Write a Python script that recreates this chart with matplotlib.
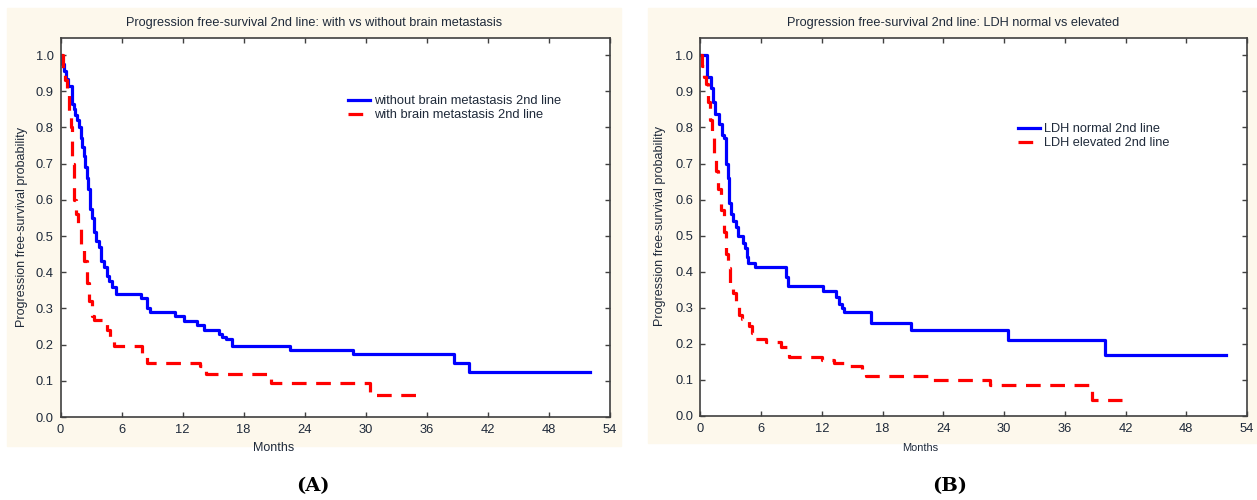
import matplotlib
matplotlib.use("Agg")
import matplotlib.pyplot as plt
from matplotlib.patches import Rectangle

plt.rcParams['font.family'] = ['Liberation Sans', 'DejaVu Sans']

# Panel A: with vs without brain metastasis (Kaplan-Meier steps)
a_no_t = [0, 0.15, 0.35, 0.55, 0.75, 1.15, 1.3, 1.45, 1.6, 1.8, 2.0, 2.15, 2.3, 2.45,
          2.6, 2.75, 2.9, 3.1, 3.3, 3.5, 3.8, 4.0, 4.3, 4.6, 4.8, 5.1, 5.5, 7.9, 8.5,
          8.8, 11.3, 12.1, 13.4, 14.1, 15.6, 15.9, 16.3, 16.9, 22.6, 28.7, 38.7, 40.1, 52.0]
a_no_s = [1.0, 0.975, 0.955, 0.935, 0.915, 0.865, 0.85, 0.835, 0.82, 0.80, 0.77, 0.745,
          0.72, 0.69, 0.66, 0.63, 0.575, 0.55, 0.51, 0.485, 0.47, 0.43, 0.415, 0.39,
          0.375, 0.36, 0.34, 0.33, 0.30, 0.29, 0.28, 0.265, 0.255, 0.24, 0.23, 0.222,
          0.215, 0.195, 0.186, 0.174, 0.149, 0.124, 0.124]
a_bm_t = [0, 0.2, 0.45, 0.65, 0.8, 1.0, 1.17, 1.36, 1.5, 1.75, 2.0, 2.3, 2.6, 2.8, 3.1,
          3.25, 4.55, 4.9, 5.3, 8.0, 8.5, 13.7, 14.3, 20.7, 30.4, 35.3]
a_bm_s = [1.0, 0.96, 0.93, 0.9, 0.83, 0.8, 0.7, 0.6, 0.56, 0.53, 0.47, 0.43, 0.37, 0.32,
          0.28, 0.269, 0.24, 0.21, 0.195, 0.175, 0.149, 0.14, 0.12, 0.095, 0.062, 0.062]

# Panel B: LDH normal vs elevated
b_norm_t = [0, 0.63, 1.07, 1.25, 1.42, 1.82, 2.13, 2.37, 2.5, 2.7, 2.85, 3.05, 3.25, 3.55,
            3.7, 4.2, 4.4, 4.6, 4.75, 5.4, 8.45, 8.7, 12.1, 13.4, 13.7, 13.95, 14.2,
            16.9, 20.8, 30.4, 40.0, 51.9]
b_norm_s = [1.0, 0.94, 0.91, 0.87, 0.838, 0.81, 0.78, 0.77, 0.70, 0.66, 0.59, 0.56, 0.54,
            0.525, 0.50, 0.48, 0.465, 0.44, 0.425, 0.413, 0.385, 0.36, 0.346, 0.33, 0.31,
            0.30, 0.288, 0.258, 0.239, 0.212, 0.168, 0.168]
b_elev_t = [0, 0.15, 0.35, 0.55, 0.75, 0.95, 1.15, 1.35, 1.55, 1.75, 2.05, 2.33, 2.53,
            2.73, 2.92, 3.2, 3.5, 3.8, 4.1, 4.8, 5.1, 5.4, 6.5, 8.0, 8.8, 12.0, 13.2,
            14.6, 16.0, 16.4, 22.5, 28.6, 38.7, 41.7]
b_elev_s = [1.0, 0.97, 0.94, 0.92, 0.87, 0.82, 0.78, 0.73, 0.68, 0.63, 0.57, 0.51, 0.45,
            0.41, 0.37, 0.34, 0.31, 0.28, 0.27, 0.25, 0.23, 0.213, 0.205, 0.19, 0.164,
            0.154, 0.147, 0.139, 0.122, 0.11, 0.099, 0.085, 0.043, 0.043]

x_ticks = list(range(0, 55, 6))
y_ticks = [i / 10 for i in range(11)]

cream = '#fdf8ec'
txt = '#1f2a3a'

fig = plt.figure(figsize=(12.57, 5.0), dpi=100)
W, H = 1257, 500

# cream panel backgrounds (pixel boxes), kept behind the axes
for x0, y0, x1, y1 in [(7, 8, 621, 446), (648, 8, 1257, 443)]:
    fig.patches.append(Rectangle((x0 / W, 1 - y1 / H), (x1 - x0) / W, (y1 - y0) / H,
                                 transform=fig.transFigure, color=cream, zorder=-5))


def km_panel(rect, curves, title, title_x, legend_xy, legend_size, xlabel_x, xlabel_size,
             tag, tag_x):
    ax = fig.add_axes(rect)
    ax.set_facecolor('white')
    (t1, s1, l1), (t2, s2, l2) = curves
    ax.step(t1, s1, where='post', color='#0000ff', lw=2.3, label=l1)
    ax.step(t2, s2, where='post', color='#ff0000', lw=2.3, dashes=(4.6, 3.0), label=l2)
    ax.set_xlim(0, 54)
    ax.set_ylim(0, 1.048)
    ax.set_xticks(x_ticks)
    ax.set_yticks(y_ticks)
    ax.set_yticklabels([f'{v:.1f}' for v in y_ticks])
    ax.tick_params(direction='in', top=True, right=True, length=3.5, width=1,
                   colors='#404040', labelcolor=txt, labelsize=9.3)
    ax.tick_params(axis='x', pad=5)
    ax.tick_params(axis='y', pad=5)
    for sp in ax.spines.values():
        sp.set_color('#404040')
        sp.set_linewidth(1.2)
    ax.legend(loc='upper left', bbox_to_anchor=legend_xy, frameon=False, fontsize=legend_size,
              borderpad=0, borderaxespad=0, handlelength=1.7, handletextpad=0.3,
              labelspacing=0.15, labelcolor=txt)
    fig.text(title_x / W, 1 - 23 / H, title, ha='center', va='center', fontsize=9.2, color=txt)
    fig.text(xlabel_x / W, 1 - 448 / H, 'Months', ha='center', va='center',
             fontsize=xlabel_size, color=txt)
    fig.text(tag_x / W, 1 - 486 / H, tag, ha='center', va='center', fontsize=14,
             fontweight='bold', family='DejaVu Serif', color='black')
    return ax


axA = km_panel([60.5 / W, 83 / H, 549.5 / W, 379.3 / H],
               [(a_no_t, a_no_s, 'without brain metastasis 2nd line'),
                (a_bm_t, a_bm_s, 'with brain metastasis 2nd line')],
               'Progression free-survival 2nd line: with vs without brain metastasis',
               314, (0.523, 0.848), 9.3, 274, 9, '(A)', 313)
fig.text(22 / W, 1 - 227 / H, 'Progression free-survival probability', rotation=90,
         ha='center', va='center', fontsize=9, color=txt)

axB = km_panel([700.4 / W, 84 / H, 546.6 / W, 378 / H],
               [(b_norm_t, b_norm_s, 'LDH normal 2nd line'),
                (b_elev_t, b_elev_s, 'LDH elevated 2nd line')],
               'Progression free-survival 2nd line: LDH normal vs elevated',
               953, (0.581, 0.774), 9.2, 920, 7.9, '(B)', 950)
fig.text(660 / W, 1 - 226 / H, 'Progression free-survival probability', rotation=90,
         ha='center', va='center', fontsize=9, color=txt)

fig.savefig('out.png', dpi=100, facecolor='white')
